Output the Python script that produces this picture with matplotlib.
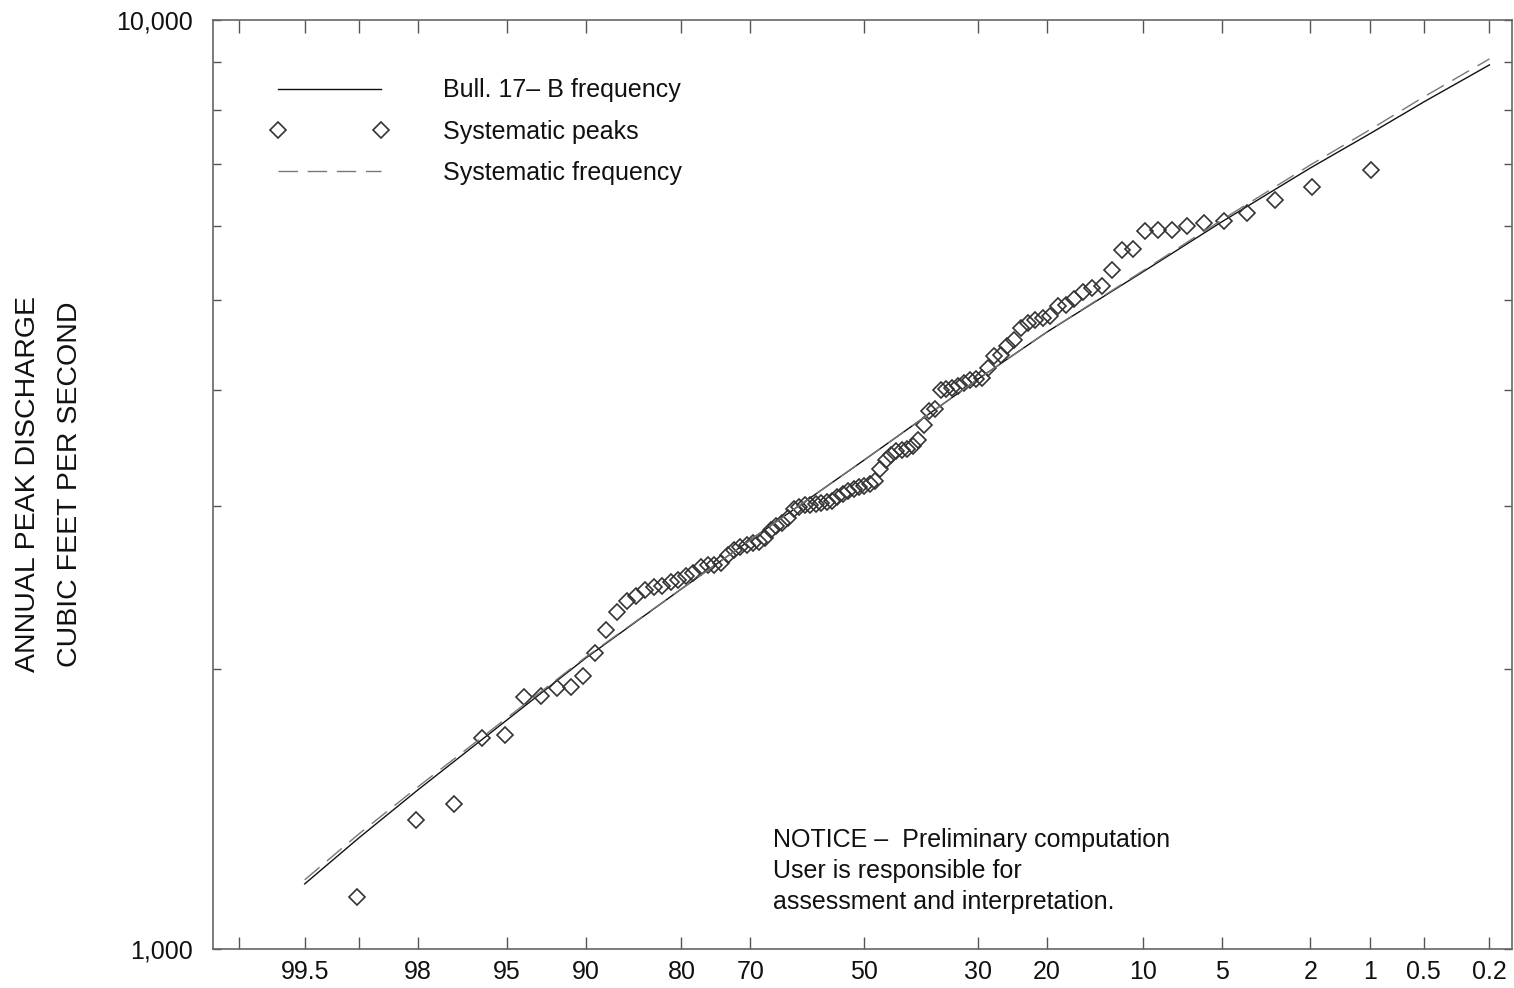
import numpy as np
import matplotlib
matplotlib.use("Agg")
import matplotlib.pyplot as plt
from matplotlib.ticker import FixedLocator, NullLocator, FixedFormatter
from statistics import NormalDist

plt.rcParams['font.family'] = ['Liberation Sans', 'DejaVu Sans']

# exceedance probability (percent) of each systematic peak, highest peak first
peak_prob = [0.98, 1.96, 2.94, 3.92, 4.90, 5.88, 6.86, 7.84, 8.82, 9.80,
             10.78, 11.76, 12.75, 13.73, 14.71, 15.69, 16.67, 17.65, 18.63, 19.61,
             20.59, 21.57, 22.55, 23.53, 24.51, 25.49, 26.47, 27.45, 28.43, 29.41,
             30.39, 31.37, 32.35, 33.33, 34.31, 35.29, 36.27, 37.25, 38.24, 39.22,
             40.20, 41.18, 42.16, 43.14, 44.12, 45.10, 46.08, 47.06, 48.04, 49.02,
             50.00, 50.98, 51.96, 52.94, 53.92, 54.90, 55.88, 56.86, 57.84, 58.82,
             59.80, 60.78, 61.76, 62.75, 63.73, 64.71, 65.69, 66.67, 67.65, 68.63,
             69.61, 70.59, 71.57, 72.55, 73.53, 74.51, 75.49, 76.47, 77.45, 78.43,
             79.41, 80.39, 81.37, 82.35, 83.33, 84.31, 85.29, 86.27, 87.25, 88.24,
             89.22, 90.20, 91.18, 92.16, 93.14, 94.12, 95.10, 96.08, 97.06, 98.04,
             99.02]
peak_cfs = [6900, 6610, 6400, 6200, 6070, 6050, 6000, 5945, 5935, 5925,
            5668, 5660, 5381, 5173, 5147, 5096, 5008, 4934, 4921, 4801,
            4777, 4754, 4718, 4661, 4523, 4457, 4359, 4348, 4221, 4120,
            4105, 4095, 4067, 4036, 4017, 4010, 3997, 3814, 3795, 3664,
            3531, 3478, 3453, 3444, 3436, 3402, 3360, 3286, 3190, 3166,
            3151, 3143, 3128, 3112, 3089, 3066, 3035, 3029, 3021, 3010,
            3006, 3002, 2991, 2976, 2910, 2875, 2853, 2825, 2770, 2742,
            2735, 2722, 2708, 2688, 2655, 2603, 2592, 2588, 2578, 2540,
            2521, 2496, 2483, 2456, 2450, 2434, 2399, 2369, 2305, 2204,
            2083, 1968, 1912, 1908, 1872, 1867, 1700, 1687, 1433, 1377,
            1138]

# frequency curves
curve_prob = [99.5, 99, 98, 95, 90, 80, 70, 50, 30, 20, 10, 5, 2, 1, 0.5, 0.2]
bull17b_cfs = [1175, 1317, 1484, 1764, 2057, 2441, 2756, 3360, 4107, 4615,
               5354, 6061, 6929, 7540, 8161, 8946]
syst_cfs = [1187, 1330, 1495, 1773, 2062, 2441, 2756, 3360, 4107, 4615,
            5368, 6091, 6981, 7615, 8263, 9080]

xticks = [99.8, 99.5, 99, 98, 95, 90, 80, 70, 50, 30, 20, 10, 5, 2, 1, 0.5, 0.2]
xticklabels = ['', '99.5', '', '98', '95', '90', '80', '70', '50', '30', '20',
               '10', '5', '2', '1', '0.5', '0.2']

nd = NormalDist()


def fwd(p):
    # normal probability scale, increasing with p
    p = np.clip(np.asarray(p, dtype=float), 1e-9, 100 - 1e-9)
    return np.vectorize(lambda v: nd.inv_cdf(v / 100), otypes=[float])(p)


def inv(z):
    return np.vectorize(lambda v: 100 * nd.cdf(v), otypes=[float])(np.asarray(z, dtype=float))


fig = plt.figure(figsize=(15.14, 9.88), dpi=100)
ax = fig.add_axes([0.1404, 0.0395, 0.8580, 0.9403])
ax.set_xscale('function', functions=(fwd, inv))
ax.set_yscale('log')

ax.plot(curve_prob, bull17b_cfs, color='#111111', lw=1.0, label='Bull. 17\u2013 B frequency')
ax.plot(peak_prob, peak_cfs, ls='none', marker='D', ms=8.5, mfc='none', mec='#333333',
        mew=1.2, label='Systematic peaks')
ax.plot(curve_prob, syst_cfs, color='#777777', lw=1.0, dashes=(14, 7),
        label='Systematic frequency')

# exceedance probability decreases left to right
ax.set_xlim(inv(3.0), inv(-2.98))
ax.set_ylim(1000, 10000)

ax.xaxis.set_major_locator(FixedLocator(xticks))
ax.xaxis.set_major_formatter(FixedFormatter(xticklabels))
ax.xaxis.set_minor_locator(NullLocator())
ax.yaxis.set_major_locator(FixedLocator([1000, 10000]))
ax.yaxis.set_major_formatter(FixedFormatter(['1,000', '10,000']))
ax.yaxis.set_minor_locator(FixedLocator([2000, 3000, 4000, 5000, 6000, 7000, 8000, 9000]))

for s in ax.spines.values():
    s.set_color('#666666')
    s.set_linewidth(1.2)
ax.tick_params(which='both', direction='in', top=True, right=True, colors='#555555',
               labelcolor='#111111', labelsize=18, width=1.0)
ax.tick_params(axis='x', length=9, pad=8)
ax.tick_params(axis='y', which='both', length=6, pad=14)

ax.set_ylabel('ANNUAL PEAK DISCHARGE\nCUBIC FEET PER SECOND', fontsize=20.5,
              color='#111111', va='center', ha='center', linespacing=1.78)
ax.yaxis.set_label_coords(-0.1259, 0.5)

ax.legend(loc='upper left', bbox_to_anchor=(0.0447, 0.937), frameon=False,
          fontsize=18, numpoints=2, handlelength=4.7, handletextpad=2.2,
          borderpad=0, borderaxespad=0, labelspacing=0.69, labelcolor='#111111')

ax.text(0.4315, 0.1300, 'NOTICE \u2013  Preliminary computation\nUser is responsible for\n'
        'assessment and interpretation.', transform=ax.transAxes, fontsize=18,
        color='#111111', ha='left', va='top', linespacing=1.37)

fig.savefig('out.png', dpi=100)
